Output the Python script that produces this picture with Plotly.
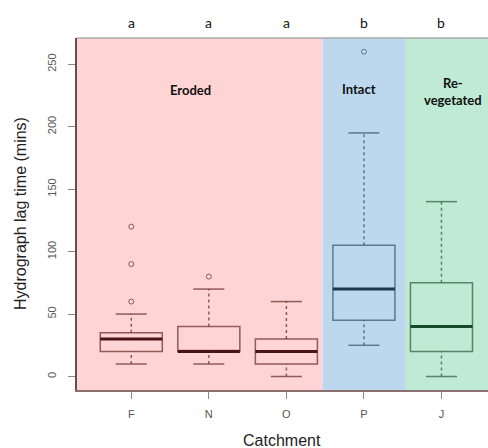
import plotly.graph_objects as go

categories = ["F", "N", "O", "P", "J"]
whisker_low = [10, 10, 0, 25, 0]
q1 = [20, 20, 10, 45, 20]
median = [30, 20, 20, 70, 40]
q3 = [35, 40, 30, 105, 75]
whisker_high = [50, 70, 60, 195, 140]
outliers = [[60, 90, 120], [80], [], [260], []]
letters = ["a", "a", "a", "b", "b"]

groups = ["Eroded", "Intact", "Re-<br>vegetated"]
group_spans = [(0.3, 3.466), (3.466, 4.54), (4.54, 5.6)]
group_fill = ["#FFD4D4", "#BDD7EE", "#BFEAD3"]
group_label_pos = [(1.77, 229), (3.94, 230), (5.15, 228)]

box_line = ["rgba(110,50,50,0.75)"] * 3 + ["rgba(60,90,115,0.75)", "rgba(50,100,65,0.75)"]
med_line = ["#4A1414"] * 3 + ["#1B3A52", "#154A2A"]

xs = list(range(1, len(categories) + 1))
BW = 0.8
CAP = 0.2

fig = go.Figure()

for i, x in enumerate(xs):
    fig.add_trace(go.Box(
        x=[x], q1=[q1[i]], median=[median[i]], q3=[q3[i]],
        lowerfence=[q1[i]], upperfence=[q3[i]],
        width=BW, whiskerwidth=0, fillcolor="rgba(0,0,0,0)",
        line=dict(color=box_line[i], width=1.5), boxpoints=False,
        showlegend=False, hoverinfo="skip"))
    fig.add_trace(go.Scatter(x=[x - BW / 2, x + BW / 2], y=[median[i], median[i]],
                             mode="lines", line=dict(color=med_line[i], width=3),
                             showlegend=False, hoverinfo="skip"))
    fig.add_trace(go.Scatter(x=[x, x, None, x, x],
                             y=[whisker_low[i], q1[i], None, q3[i], whisker_high[i]],
                             mode="lines", line=dict(color=box_line[i], width=1.5, dash="3px,3px"),
                             showlegend=False, hoverinfo="skip"))
    fig.add_trace(go.Scatter(x=[x - CAP, x + CAP, None, x - CAP, x + CAP],
                             y=[whisker_low[i], whisker_low[i], None, whisker_high[i], whisker_high[i]],
                             mode="lines", line=dict(color=box_line[i], width=1.5),
                             showlegend=False, hoverinfo="skip"))
    if outliers[i]:
        fig.add_trace(go.Scatter(x=[x] * len(outliers[i]), y=outliers[i], mode="markers",
                                 marker=dict(symbol="circle-open", size=5, color=box_line[i],
                                             line=dict(width=1)),
                                 showlegend=False, hoverinfo="skip"))

shapes = []
for (x0, x1), c in zip(group_spans, group_fill):
    shapes.append(dict(type="rect", xref="x", yref="paper", x0=x0, x1=x1, y0=0, y1=1,
                       fillcolor=c, line=dict(width=0), layer="below"))
shapes.append(dict(type="line", xref="paper", yref="paper", x0=0, x1=1, y0=1, y1=1,
                   line=dict(color="#aaaaaa", width=1.5)))

annotations = []
for x, l in zip(xs, letters):
    annotations.append(dict(x=x, y=1.0, xref="x", yref="paper", yshift=16, yanchor="middle",
                            text=l, showarrow=False,
                            font=dict(family="Lato", size=14, color="#111")))
for g, (gx, gy) in zip(groups, group_label_pos):
    annotations.append(dict(x=gx, y=gy, xref="x", yref="y", text="<b>" + g + "</b>",
                            showarrow=False, font=dict(family="Lato", size=13, color="#111")))
annotations.append(dict(x=0, y=0.5, xref="paper", yref="paper", xshift=-57, textangle=-90,
                        text="Hydrograph lag time (mins)", showarrow=False,
                        xanchor="center", yanchor="middle",
                        font=dict(family="Liberation Sans", size=16, color="#222")))
annotations.append(dict(x=0.499, y=0, xref="paper", yref="paper", yshift=-50,
                        text="Catchment", showarrow=False, xanchor="center", yanchor="middle",
                        font=dict(family="Liberation Sans", size=16, color="#222")))

fig.update_layout(
    width=488, height=448,
    margin=dict(l=77, r=0, t=38, b=58, autoexpand=False),
    paper_bgcolor="white", plot_bgcolor="white",
    shapes=shapes, annotations=annotations,
    font=dict(family="Liberation Sans"),
    xaxis=dict(range=[0.3, 5.6], tickvals=xs, ticktext=categories, ticks="outside",
               ticklen=7, tickcolor="#888", tickfont=dict(size=11, color="#555"),
               showgrid=False, zeroline=False, showline=True, linecolor="#8a7070",
               linewidth=1.5, mirror=False, automargin=False, ticklabelstandoff=6),
    yaxis=dict(range=[-10.8, 271], tickvals=[0, 50, 100, 150, 200, 250], ticks="outside",
               ticklen=7, tickcolor="#888", tickangle=-90,
               tickfont=dict(size=11, color="#555"),
               showgrid=False, zeroline=False, showline=True, linecolor="#6a4a4a",
               linewidth=1.5, automargin=False, ticklabelstandoff=8),
)

fig.write_html("out.html", config={"displayModeBar": False},
               post_script="document.body.style.margin='0';document.body.style.overflow='hidden';")
